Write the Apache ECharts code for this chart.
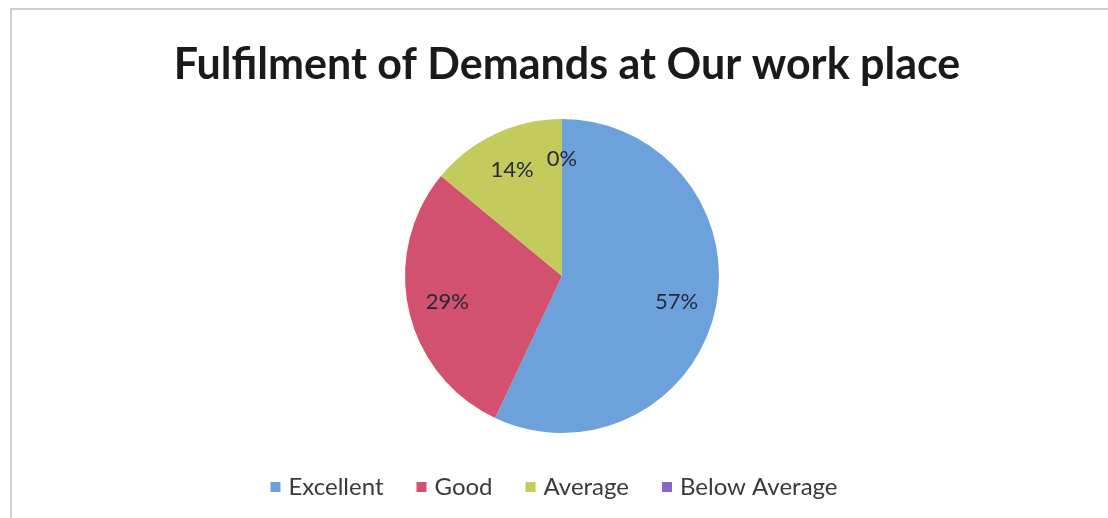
<!DOCTYPE html>
<html>
<head>
<meta charset="utf-8">
<script src="https://cdn.jsdelivr.net/npm/echarts@6/dist/echarts.min.js"></script>
<style>
  html, body { margin: 0; padding: 0; background: #fff; }
  #frame {
    position: absolute; left: 10px; top: 8px; width: 1098px; height: 510px;
    border-top: 2px solid #cfcfcf; border-left: 2px solid #cfcfcf;
  }
  #chart { position: absolute; left: 0; top: 0; width: 1108px; height: 518px; }
</style>
</head>
<body>
<div id="frame"></div>
<div id="chart"></div>
<script>
// 数据
const categories = ['Excellent', 'Good', 'Average', 'Below Average'];
const values = [57, 29, 14, 0];
const colorArr = ['#6ca1dc', '#d2516f', '#c3cb5c', '#8569c4'];

let myChart = echarts.init(document.getElementById('chart'));

let pieData = categories.map((name, i) => ({ name: name, value: values[i] }));

let option = {
  animation: false,
  title: {
    text: 'Fulfilment of Demands at Our work place',
    left: 562,
    textAlign: 'center',
    top: 39,
    textStyle: {
      fontFamily: 'Lato',
      fontWeight: 'bold',
      fontSize: 43,
      color: '#1a1a1a',
    },
  },
  color: colorArr,
  legend: {
    data: categories,
    bottom: 14,
    left: 'center',
    icon: 'rect',
    itemWidth: 10,
    itemHeight: 10,
    itemGap: 33,
    textStyle: {
      fontFamily: 'Lato',
      fontSize: 24,
      color: '#3a3a3a',
      padding: [0, 0, 0, 3],
    },
  },
  series: [
    {
      // 饼图本体
      name: 'pie',
      type: 'pie',
      center: [562, 276],
      radius: [0, 157],
      startAngle: 90,
      clockwise: true,
      minAngle: 0,
      silent: true,
      label: { show: false },
      labelLine: { show: false },
      itemStyle: { borderWidth: 0 },
      data: pieData,
    },
    {
      // 标签层（透明）
      name: 'labels',
      type: 'pie',
      center: [562, 276],
      radius: [72, 157],
      startAngle: 90,
      clockwise: true,
      silent: true,
      legendHoverLink: false,
      itemStyle: { color: 'transparent', borderWidth: 0 },
      label: {
        show: true,
        position: 'inside',
        formatter: '{d}%',
        fontFamily: 'Lato',
        fontSize: 22,
        color: '#262a36',
      },
      labelLine: { show: false },
      data: pieData,
    },
  ],
};

myChart.setOption(option);
</script>
</body>
</html>
